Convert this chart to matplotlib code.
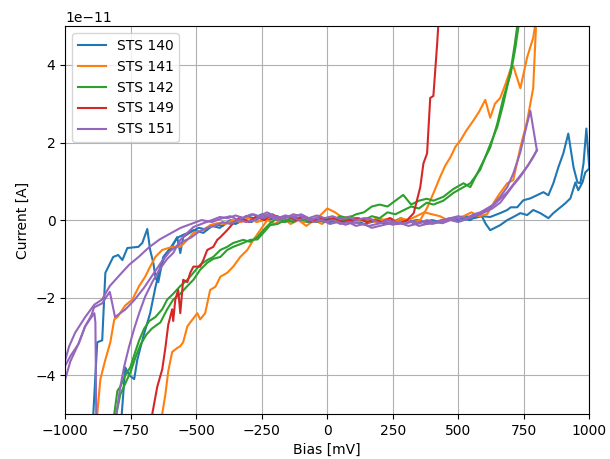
import matplotlib
matplotlib.use('Agg')
import matplotlib.pyplot as plt
import numpy as np

# current values in units of 1e-11 A, bias in mV
sts140_b1_bias = [-1000, -900, -893, -878, -859, -847, -817, -798, -782, -763, -721, -706, -687, -676, -664, -655, -645, -626, -599, -573,
                  -550, -520, -490, -460, -430, -400, -370, -340, -310, -280, -250, -220, -190, -160, -130, -100, -70, -40, -10, 20,
                  50, 80, 110, 140, 170, 200, 230, 260, 290, 320, 350, 380, 410, 440, 470, 500, 530, 560, 590, 622,
                  660, 687, 700, 725, 748, 775, 800, 825, 844, 863, 882, 901, 920, 940, 955, 966, 978, 989, 1000]
sts140_b1_cur = [-9, -7, -5, -3.15, -3.1, -1.36, -0.95, -0.9, -1.03, -0.72, -0.69, -0.59, -0.23, -0.77, -1.1, -1.5, -1.6, -0.95, -0.72, -0.46,
                 -0.38, -0.3, -0.2, -0.25, -0.1, -0.15, 0.0, -0.05, 0.1, 0.05, 0.15, 0.05, 0.1, 0.0, 0.05, 0.0, 0.05, -0.05, 0.05, 0.0,
                 0.05, -0.05, 0.0, -0.1, -0.05, 0.0, -0.1, -0.05, 0.0, -0.05, 0.0, -0.1, -0.05, 0.0, 0.05, 0.0, 0.1, 0.05, 0.1, 0.08,
                 0.18, 0.26, 0.33, 0.33, 0.51, 0.56, 0.64, 0.72, 0.64, 0.95, 1.36, 1.72, 2.23, 1.36, 0.97, 0.95, 1.46, 2.36, 1.36]
sts140_b2_bias = [-1000, -820, -790, -771, -756, -737, -725, -702, -676, -655, -637, -620, -599, -573, -561, -550, -511, -473, -440, -410,
                  -380, -350, -320, -290, -260, -230, -200, -170, -140, -110, -80, -50, -20, 10, 40, 70, 100, 130, 160, 190,
                  220, 250, 280, 310, 340, 370, 400, 430, 460, 500, 546, 584, 605, 622, 660, 687, 710, 737, 763, 786,
                  813, 844, 863, 890, 908, 928, 947, 958, 974, 985, 1000]
sts140_b2_cur = [-9, -7, -5.5, -3.8, -4.0, -4.1, -3.6, -3.0, -2.4, -1.7, -1.2, -0.95, -0.77, -0.44, -0.85, -0.44, -0.26, -0.33, -0.15, -0.2,
                 -0.05, -0.1, 0.0, -0.05, 0.05, 0.0, 0.05, -0.05, 0.0, 0.05, -0.05, 0.0, 0.05, -0.05, 0.0, -0.05, 0.05, 0.0, -0.05, 0.0,
                 -0.1, -0.05, 0.05, -0.05, 0.0, -0.05, 0.0, -0.05, 0.0, 0.05, 0.0, 0.18, -0.1, -0.26, -0.13, 0.0, 0.08, 0.18, 0.13, 0.26,
                 0.18, 0.05, 0.18, 0.33, 0.43, 0.56, 0.97, 0.77, 0.97, 1.23, 1.33]

sts141_b1_bias = [-1000, -890, -878, -866, -847, -828, -813, -801, -771, -744, -718, -695, -676, -656, -630, -592, -561, -534, -511, -473,
                  -447, -420, -390, -360, -330, -300, -270, -240, -210, -180, -150, -120, -90, -60, -30, 0, 30, 60, 90, 120,
                  150, 180, 210, 240, 270, 300, 330, 355, 380, 405, 430, 450, 470, 490, 508, 530, 557, 580, 603, 622,
                  640, 660, 680, 700, 710, 737, 763, 786, 800]
sts141_b1_cur = [-9, -7, -5, -4.1, -3.6, -3.15, -2.56, -2.5, -2.2, -2.05, -1.7, -1.46, -1.2, -0.95, -0.77, -0.69, -0.69, -0.51, -0.33, -0.26,
                 -0.13, -0.08, -0.1, 0.0, -0.05, 0.05, -0.05, 0.0, 0.1, -0.05, 0.0, 0.05, -0.05, 0.0, 0.1, 0.3, 0.2, 0.05, 0.1, 0.0,
                 0.05, -0.05, 0.0, 0.05, -0.05, 0.0, -0.05, 0.0, 0.3, 0.69, 1.1, 1.4, 1.62, 1.9, 2.05, 2.3, 2.56, 2.8, 3.1, 2.64,
                 3.0, 3.15, 3.5, 3.9, 3.97, 3.4, 4.2, 4.7, 5.3]
sts141_b2_bias = [-1000, -650, -630, -618, -607, -592, -573, -561, -550, -534, -523, -496, -485, -466, -447, -427, -408, -382, -359, -332,
                  -305, -282, -256, -229, -200, -170, -140, -110, -80, -50, -20, 10, 40, 70, 100, 130, 160, 190, 220, 250,
                  280, 310, 340, 370, 400, 430, 460, 490, 520, 550, 580, 610, 640, 660, 687, 710, 737, 763, 786, 800]
sts141_b2_cur = [-9, -7, -5, -4.5, -3.9, -3.4, -3.3, -3.25, -3.15, -2.74, -2.64, -2.4, -2.56, -2.4, -1.8, -1.72, -1.46, -1.36, -1.2, -0.95,
                 -0.77, -0.51, -0.26, 0.0, -0.1, 0.05, -0.1, 0.0, -0.15, 0.0, -0.1, 0.05, -0.05, 0.0, -0.1, 0.0, -0.05, 0.05, 0.0, -0.1,
                 0.05, 0.0, 0.1, 0.2, 0.15, 0.1, 0.0, 0.05, 0.1, 0.2, 0.1, 0.15, 0.5, 0.7, 0.95, 1.03, 1.87, 2.56, 3.4, 5.5]

sts142_b1_bias = [-850, -813, -801, -790, -771, -752, -733, -718, -699, -679, -656, -630, -611, -588, -561, -534, -511, -485, -458, -435,
                  -408, -382, -359, -321, -294, -267, -244, -218, -190, -160, -130, -100, -70, -40, -10, 20, 50, 80, 110, 140,
                  170, 200, 230, 260, 290, 320, 350, 380, 405, 443, 481, 520, 546, 584, 622, 649, 672, 700, 718, 729, 740]
sts142_b1_cur = [-6, -5, -4.4, -4.3, -4.0, -3.8, -3.4, -3.1, -2.8, -2.6, -2.5, -2.3, -2.05, -1.9, -1.7, -1.54, -1.36, -1.15, -1.03, -0.95,
                 -0.77, -0.69, -0.59, -0.51, -0.56, -0.44, -0.26, -0.08, 0.05, -0.05, 0.1, 0.0, 0.05, -0.05, 0.05, 0.0, 0.1, 0.05, 0.15, 0.2,
                 0.35, 0.4, 0.35, 0.5, 0.65, 0.4, 0.5, 0.55, 0.5, 0.6, 0.8, 0.95, 0.85, 1.36, 1.87, 2.49, 3.15, 3.77, 4.44, 4.95, 5.5]
sts142_b2_bias = [-830, -805, -790, -770, -750, -730, -712, -690, -670, -650, -637, -611, -588, -561, -534, -511, -485, -458, -435, -408,
                  -382, -359, -321, -294, -267, -244, -218, -190, -160, -130, -100, -70, -40, -10, 20, 50, 80, 110, 140, 170,
                  200, 230, 260, 290, 320, 350, 380, 405, 443, 481, 520, 546, 584, 622, 649, 672, 700, 715, 725, 735]
sts142_b2_cur = [-6, -5, -4.5, -4.2, -3.9, -3.5, -3.2, -2.95, -2.8, -2.7, -2.64, -2.3, -2.05, -1.9, -1.7, -1.54, -1.28, -1.1, -1.0, -0.95,
                 -0.77, -0.69, -0.59, -0.51, -0.5, -0.33, -0.13, -0.1, 0.0, -0.05, 0.05, -0.05, 0.0, -0.05, 0.05, 0.0, 0.0, 0.05, 0.0, 0.1,
                 0.05, 0.2, 0.15, 0.25, 0.35, 0.3, 0.45, 0.4, 0.5, 0.7, 0.85, 0.95, 1.3, 1.95, 2.4, 3.0, 3.85, 4.5, 5.0, 5.6]

sts149_bias = [-700, -668, -649, -630, -618, -607, -592, -588, -580, -569, -561, -550, -534, -523, -511, -485, -473, -458, -435, -420,
               -408, -382, -359, -332, -300, -270, -240, -210, -180, -150, -120, -90, -60, -30, 0, 30, 60, 90, 120, 150,
               180, 210, 240, 270, 305, 330, 355, 367, 381, 393, 405, 412, 420, 428]
sts149_cur = [-6.5, -5, -4.3, -3.85, -3.3, -2.7, -2.3, -2.6, -2.05, -1.8, -2.4, -1.54, -1.6, -1.36, -1.2, -1.2, -1.03, -0.77, -0.69, -0.51,
              -0.44, -0.26, -0.08, 0.08, -0.05, 0.1, 0.0, 0.15, 0.05, 0.1, 0.0, 0.1, -0.05, 0.05, 0.0, 0.05, -0.05, 0.0, 0.05, -0.05,
              0.0, -0.05, 0.05, -0.1, 0.0, 0.18, 0.85, 1.46, 1.72, 3.15, 3.2, 3.85, 4.6, 5.5]

sts151_b1_bias = [-1000, -985, -962, -924, -889, -860, -830, -790, -756, -720, -680, -640, -600, -560, -520, -480, -440, -400, -370, -340,
                  -310, -280, -250, -220, -190, -160, -130, -100, -70, -40, -10, 20, 50, 80, 110, 140, 170, 200, 230, 260,
                  290, 320, 350, 380, 410, 440, 470, 500, 530, 560, 584, 610, 634, 660, 687, 710, 737, 756, 775, 800]
sts151_b1_cur = [-3.6, -3.25, -2.9, -2.5, -2.18, -2.05, -1.7, -1.4, -1.15, -0.95, -0.7, -0.5, -0.35, -0.2, -0.1, 0.0, -0.05, 0.05, 0.1, 0.0,
                 0.1, 0.15, 0.05, 0.1, 0.0, 0.05, 0.15, 0.1, 0.0, 0.05, -0.05, 0.0, -0.1, -0.05, -0.15, -0.1, -0.2, -0.15, -0.1, -0.05,
                 -0.1, -0.05, -0.15, -0.1, -0.05, 0.0, 0.05, 0.1, 0.05, 0.15, 0.2, 0.3, 0.4, 0.6, 0.85, 1.2, 1.75, 2.3, 2.82, 1.8]
sts151_b2_bias = [800, 786, 763, 737, 710, 687, 660, 634, 610, 584, 560, 530, 500, 470, 440, 410, 380, 350, 320, 290,
                  260, 230, 200, 170, 140, 110, 80, 50, 20, -10, -40, -70, -100, -130, -160, -190, -220, -250, -280, -310,
                  -340, -370, -400, -430, -460, -490, -520, -550, -580, -600, -630, -660, -700, -735, -770, -790, -810, -830, -860, -890,
                  -900, -925, -950, -980, -1000]
sts151_b2_cur = [1.8, 1.62, 1.38, 1.15, 0.92, 0.72, 0.55, 0.38, 0.26, 0.15, 0.1, 0.02, -0.05, 0.0, -0.08, -0.05, 0.0, -0.08, -0.02, -0.1,
                 -0.05, 0.0, -0.08, 0.02, 0.05, 0.0, 0.08, 0.02, 0.1, 0.05, 0.12, 0.05, 0.15, 0.08, 0.12, 0.05, 0.15, 0.1, 0.0, -0.05,
                 0.0, -0.1, -0.05, -0.15, -0.2, -0.3, -0.45, -0.55, -0.7, -0.8, -1.05, -1.35, -1.75, -2.05, -2.3, -2.4, -2.5, -1.85, -2.15, -2.25,
                 -2.45, -2.75, -3.2, -3.5, -3.75]
sts151_b3_bias = [-1000, -981, -947, -924, -900, -889, -885, -878, -820, -805, -790, -775, -756, -737, -718, -695, -668, -641, -611, -588,
                  -561, -534, -511, -473, -440, -410, -380, -350, -320, -290, -260, -230, -200, -170, -140, -110, -80, -50, -20, 10,
                  40, 70, 100, 130, 160, 190, 220, 250, 280, 310, 340, 370, 400, 430, 460, 490, 520, 546, 570, 600,
                  630, 660, 687, 710, 737, 770, 800]
sts151_b3_cur = [-4.1, -3.65, -3.15, -2.74, -2.5, -2.4, -2.64, -8, -8, -5.0, -4.3, -3.77, -3.25, -2.8, -2.4, -1.97, -1.6, -1.28, -1.0, -0.85,
                 -0.51, -0.33, -0.18, -0.08, 0.0, 0.08, 0.05, 0.12, 0.05, 0.15, 0.1, 0.2, 0.1, 0.05, 0.1, 0.0, 0.05, -0.05, 0.0, -0.1,
                 -0.05, -0.12, -0.05, -0.1, -0.15, -0.1, -0.05, -0.12, -0.08, -0.15, -0.1, -0.05, -0.1, -0.05, 0.0, 0.05, 0.0, 0.08, 0.15, 0.2,
                 0.3, 0.45, 0.69, 0.9, 1.12, 1.45, 1.8]

series = [
    ('STS 140', 'C0', [(sts140_b1_bias, sts140_b1_cur), (sts140_b2_bias, sts140_b2_cur)]),
    ('STS 141', 'C1', [(sts141_b1_bias, sts141_b1_cur), (sts141_b2_bias, sts141_b2_cur)]),
    ('STS 142', 'C2', [(sts142_b1_bias, sts142_b1_cur), (sts142_b2_bias, sts142_b2_cur)]),
    ('STS 149', 'C3', [(sts149_bias, sts149_cur)]),
    ('STS 151', 'C4', [(sts151_b1_bias, sts151_b1_cur), (sts151_b2_bias, sts151_b2_cur), (sts151_b3_bias, sts151_b3_cur)]),
]

fig = plt.figure(figsize=(6.1, 4.59), dpi=100)
ax = fig.add_subplot(111)
for name, col, sweeps in series:
    for i, (b, c) in enumerate(sweeps):
        ax.plot(b, np.array(c) * 1e-11, color=col, label=name if i == 0 else None)

ax.set_xlim(-1000, 1000)
ax.set_ylim(-5e-11, 5e-11)
ax.grid(True)
ax.legend(loc='upper left')
ax.set_xlabel('Bias [mV]')
ax.set_ylabel('Current [A]')
fig.subplots_adjust(left=0.107, right=0.966, top=0.943, bottom=0.098)
fig.savefig('out.png')
